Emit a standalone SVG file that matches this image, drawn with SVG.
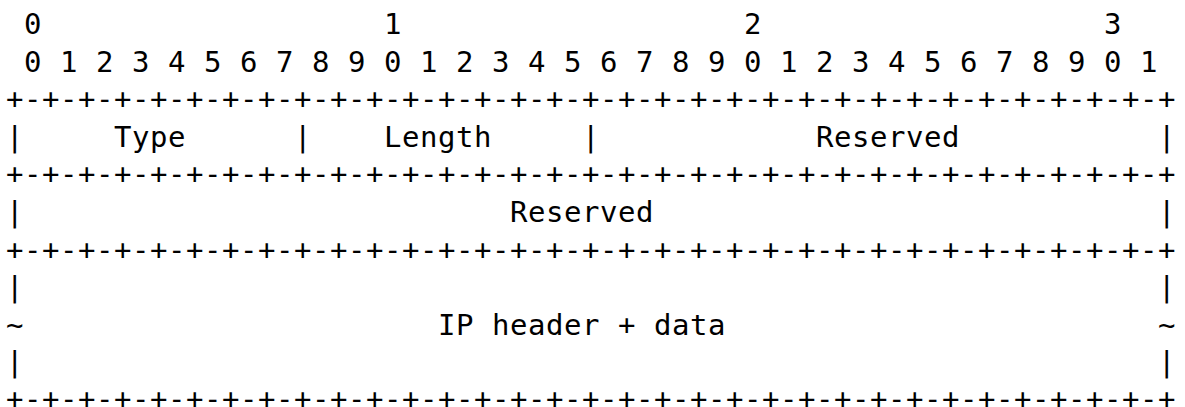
<svg xmlns="http://www.w3.org/2000/svg" width="1185" height="407" viewBox="0 0 1185 407">
<style>
text{font-family:"DejaVu Sans Mono","Liberation Mono",monospace;font-size:29px;letter-spacing:0.54px;fill:#000;white-space:pre}
</style>
<rect width="1185" height="407" fill="#fff"/>
<g id="ruler">
<text x="24" y="34">0</text>
<text x="384" y="34">1</text>
<text x="744" y="34">2</text>
<text x="1104" y="34">3</text>
<text x="24" y="71.6" xml:space="preserve">0 1 2 3 4 5 6 7 8 9 0 1 2 3 4 5 6 7 8 9 0 1 2 3 4 5 6 7 8 9 0 1</text>
</g>
<g id="borders">
<text x="6" y="109.2">+-+-+-+-+-+-+-+-+-+-+-+-+-+-+-+-+-+-+-+-+-+-+-+-+-+-+-+-+-+-+-+-+</text>
<text x="6" y="184.4">+-+-+-+-+-+-+-+-+-+-+-+-+-+-+-+-+-+-+-+-+-+-+-+-+-+-+-+-+-+-+-+-+</text>
<text x="6" y="259.6">+-+-+-+-+-+-+-+-+-+-+-+-+-+-+-+-+-+-+-+-+-+-+-+-+-+-+-+-+-+-+-+-+</text>
<text x="6" y="409">+-+-+-+-+-+-+-+-+-+-+-+-+-+-+-+-+-+-+-+-+-+-+-+-+-+-+-+-+-+-+-+-+</text>
</g>
<g id="row-type-length-reserved">
<text x="6" y="146.8">|</text>
<text x="114" y="146.8">Type</text>
<text x="294" y="146.8">|</text>
<text x="384" y="146.8">Length</text>
<text x="582" y="146.8">|</text>
<text x="816" y="146.8">Reserved</text>
<text x="1158" y="146.8">|</text>
</g>
<g id="row-reserved">
<text x="6" y="222">|</text>
<text x="510" y="222">Reserved</text>
<text x="1158" y="222">|</text>
</g>
<g id="row-ip-header">
<text x="6" y="297.2">|</text>
<text x="1158" y="297.2">|</text>
<text x="6" y="334.8">~</text>
<text x="438" y="334.8" xml:space="preserve">IP header + data</text>
<text x="1158" y="334.8">~</text>
<text x="6" y="372.4">|</text>
<text x="1158" y="372.4">|</text>
</g>
</svg>
